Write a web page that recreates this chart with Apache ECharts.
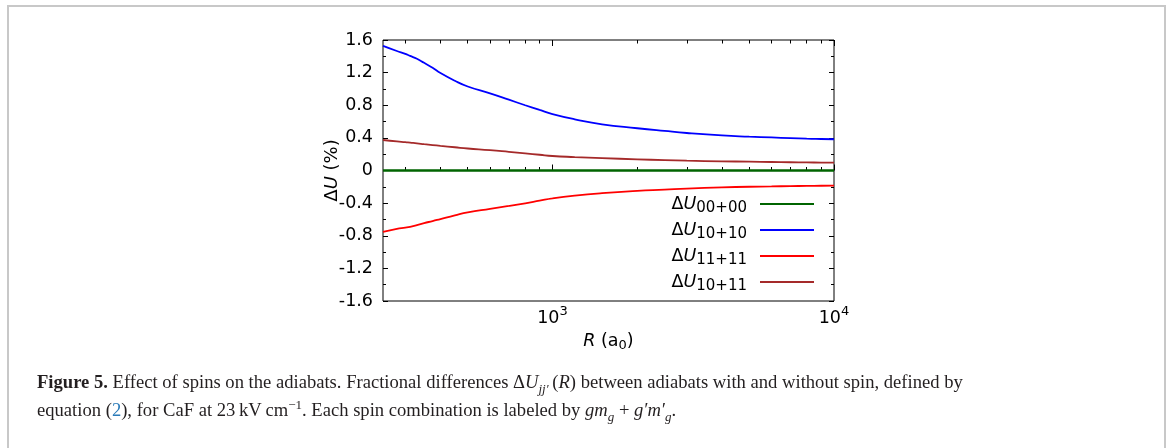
<!DOCTYPE html>
<html lang="en">
<head>
  <meta charset="UTF-8">
  <title>Figure 5 - spin effect on adiabats</title>
  <script src="https://cdn.jsdelivr.net/npm/echarts@6/dist/echarts.min.js"></script>
  <style>
    body {
      margin: 0;
      background: #fff;
      width: 1176px;
      height: 448px;
      overflow: hidden;
      position: relative;
    }

    .frame {
      position: absolute;
      left: 7px;
      top: 5px;
      width: 1155px;
      height: 470px;
      border: 2px solid #c8c8c8;
    }

    #chart {
      position: absolute;
      left: 0;
      top: 0;
      width: 1176px;
      height: 448px;
    }

    .caption {
      position: absolute;
      left: 37px;
      top: 368px;
      font-family: 'Liberation Serif', 'DejaVu Serif', serif;
      font-size: 18.6px;
      line-height: 28px;
      color: #231f20;
      white-space: nowrap;
    }

    .caption .ref { color: #2b7bb9; }
    .caption sub, .caption sup { font-size: 13px; line-height: 0; }
  </style>
</head>
<body>
  <div class="frame"></div>
  <div id="chart"></div>
  <div class="caption">
    <b>Figure 5.</b> Effect of spins on the adiabats. Fractional differences &Delta;<i>U</i><sub><i>jj&prime;</i></sub>&thinsp;(<i>R</i>) between adiabats with and without spin, defined by<br>
    equation (<span class="ref">2</span>), for CaF at 23&thinsp;kV&thinsp;cm<sup>&minus;1</sup>. Each spin combination is labeled by <i>gm<sub>g</sub></i> + <i>g&prime;m&prime;<sub>g</sub></i>.
  </div>

  <script>
    // R in units of a0 (log axis)
    const rValues = [250, 280, 300, 312, 330, 350, 375, 400, 450, 500, 600, 700, 800, 900, 1000,
                     1200, 1500, 2000, 2500, 3000, 4000, 5000, 6000, 7000, 8000, 9000, 10000];

    // Delta U (%)
    const dU0000 = [0, 0, 0, 0, 0, 0, 0, 0, 0, 0, 0, 0, 0, 0, 0,
                    0, 0, 0, 0, 0, 0, 0, 0, 0, 0, 0, 0];
    const dU1010 = [1.528, 1.465, 1.43, 1.405, 1.37, 1.32, 1.26, 1.195, 1.10, 1.03, 0.945, 0.868, 0.80, 0.742, 0.692,
                    0.628, 0.566, 0.518, 0.485, 0.46, 0.43, 0.415, 0.405, 0.397, 0.39, 0.386, 0.383];
    const dU1111 = [-0.751, -0.715, -0.70, -0.69, -0.67, -0.645, -0.62, -0.595, -0.55, -0.513, -0.47, -0.435, -0.402, -0.37, -0.342,
                    -0.308, -0.278, -0.25, -0.235, -0.222, -0.207, -0.199, -0.195, -0.191, -0.189, -0.187, -0.186];
    const dU1011 = [0.374, 0.356, 0.347, 0.341, 0.333, 0.323, 0.312, 0.302, 0.285, 0.27, 0.25, 0.229, 0.21, 0.193, 0.178,
                    0.165, 0.152, 0.137, 0.127, 0.12, 0.113, 0.108, 0.104, 0.101, 0.099, 0.097, 0.096];

    const seriesNames = ['00+00', '10+10', '11+11', '10+11'];
    const seriesColors = ['#006400', '#0000ff', '#ff0000', '#a52a2a'];
    const seriesWidths = [2.5, 1.8, 1.8, 1.8];

    // tick positions on the R axis
    const xMajorTicks = [1000, 10000];
    const xMinorTicks = [300, 400, 500, 600, 700, 800, 900, 2000, 3000, 4000, 5000, 6000, 7000, 8000, 9000];

    const FONT = 'DejaVu Sans';
    const chart = echarts.init(document.getElementById('chart'));

    const allData = [dU0000, dU1010, dU1111, dU1011];

    function xAxisDef(position, tickVals, len, withLabels) {
      return {
        type: 'log',
        logBase: 10,
        min: 250,
        max: 10000,
        position: position,
        axisLine: { show: false },
        splitLine: { show: false },
        axisTick: {
          show: true,
          inside: true,
          length: len,
          customValues: tickVals,
          lineStyle: { color: '#000', width: 1 }
        },
        axisLabel: withLabels ? {
          show: true,
          customValues: xMajorTicks,
          margin: 4,
          formatter: v => '{b|10}{p|' + Math.round(Math.log10(v)) + '}',
          rich: {
            b: { fontFamily: FONT, fontSize: 17.5, color: '#000' },
            p: { fontFamily: FONT, fontSize: 13, color: '#000', padding: [0, 0, 14, 0] }
          }
        } : { show: false }
      };
    }

    function yAxisDef(position) {
      return {
        type: 'value',
        min: -1.6,
        max: 1.6,
        interval: 0.4,
        position: position,
        axisLine: { show: false },
        splitLine: { show: false },
        axisTick: { show: true, inside: true, length: 5, lineStyle: { color: '#000' } },
        minorTick: { show: true, splitNumber: 2, length: 3, lineStyle: { color: '#000' } },
        axisLabel: position === 'left' ? {
          show: true,
          margin: 10,
          fontFamily: FONT,
          fontSize: 17.5,
          color: '#000',
          formatter: v => Math.abs(v) < 1e-9 ? '0' : v.toFixed(1)
        } : { show: false }
      };
    }

    const xAxes = [
      xAxisDef('bottom', xMajorTicks, 6, true),
      xAxisDef('bottom', xMinorTicks, 3.5, false),
      xAxisDef('top', xMajorTicks, 6, false),
      xAxisDef('top', xMinorTicks, 3.5, false)
    ];
    xAxes[0].name = '{i|R}{n| (a}{s|0}{n|)}';
    xAxes[0].nameLocation = 'middle';
    xAxes[0].nameGap = 27;
    xAxes[0].nameTextStyle = {
      rich: {
        i: { fontFamily: FONT, fontSize: 17.5, fontStyle: 'italic', color: '#000' },
        n: { fontFamily: FONT, fontSize: 17.5, color: '#000' },
        s: { fontFamily: FONT, fontSize: 13, color: '#000', padding: [9, 0, 0, 0] }
      }
    };

    const yAxes = [yAxisDef('left'), yAxisDef('right')];
    yAxes[0].name = '{d|\u0394}{i|U}{n| (%)}';
    yAxes[0].nameLocation = 'middle';
    yAxes[0].nameGap = 42;
    yAxes[0].nameMoveOverlap = false;
    yAxes[0].nameTextStyle = {
      rich: {
        d: { fontFamily: FONT, fontSize: 18, color: '#000' },
        i: { fontFamily: FONT, fontSize: 18, fontStyle: 'italic', color: '#000' },
        n: { fontFamily: FONT, fontSize: 18, color: '#000' }
      }
    };

    // straight-line legend keys, like the original
    const lineIcon = 'path://M0,0H54V2H0Z';

    const option = {
      animation: false,
      grid: {
        left: 383,
        top: 40,
        width: 451,
        height: 261,
        show: true,
        borderColor: '#000',
        borderWidth: 1,
        backgroundColor: 'transparent'
      },
      xAxis: xAxes,
      yAxis: yAxes,
      legend: {
        orient: 'vertical',
        right: 362,
        top: 195,
        padding: 0,
        itemGap: 5,
        itemWidth: 54,
        itemHeight: 2,
        align: 'right',
        selectedMode: false,
        data: seriesNames.map(n => ({ name: n, icon: lineIcon })),
        formatter: name => '{d|\u0394}{i|U}{s|' + name + '}',
        textStyle: {
          padding: [0, 8, 0, 0],
          rich: {
            d: { fontFamily: FONT, fontSize: 17.5, color: '#000' },
            i: { fontFamily: FONT, fontSize: 17.5, fontStyle: 'italic', color: '#000' },
            s: { fontFamily: FONT, fontSize: 15, color: '#000', padding: [9, 0, 0, 0] }
          }
        }
      },
      series: seriesNames.map((name, k) => ({
        name: name,
        type: 'line',
        xAxisIndex: 0,
        yAxisIndex: 0,
        symbol: 'none',
        smooth: 0.5,
        color: seriesColors[k],
        lineStyle: { color: seriesColors[k], width: seriesWidths[k] },
        data: rValues.map((r, i) => [r, allData[k][i]])
      }))
    };

    chart.setOption(option);
  </script>
</body>
</html>
